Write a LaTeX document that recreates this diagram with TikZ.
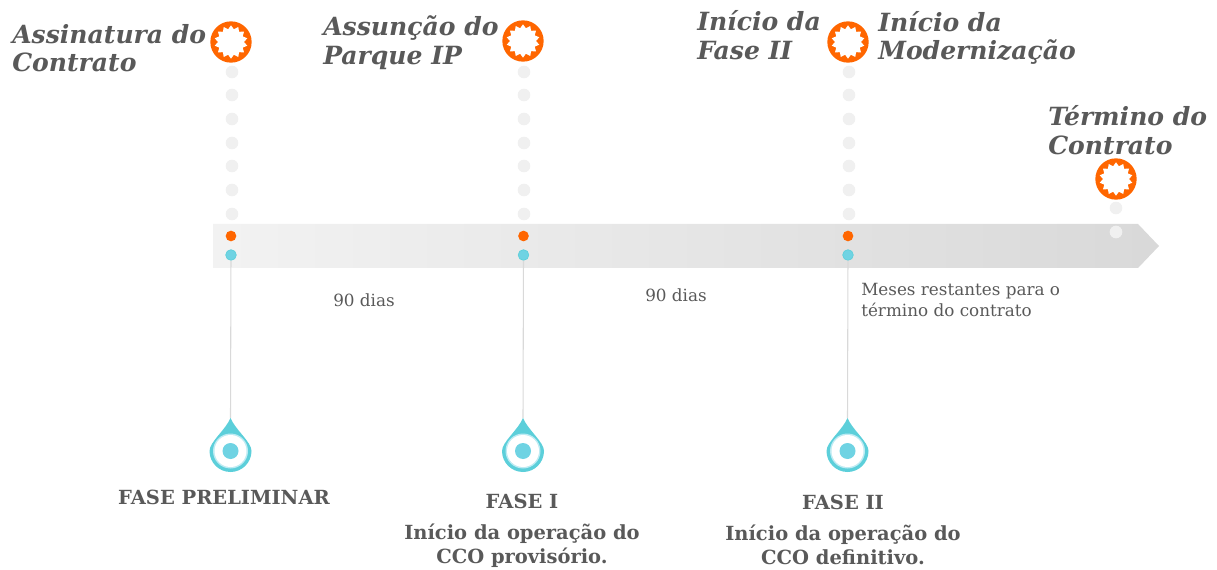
\documentclass[tikz,border=0pt]{standalone}
\usepackage{fontspec}
\setmainfont{DejaVu Serif}
\usetikzlibrary{shapes.geometric}
\definecolor{txtgray}{HTML}{595959}
\definecolor{dotgray}{HTML}{F0F0F0}
\definecolor{markorange}{HTML}{FF6600}
\definecolor{markteal}{HTML}{6FD3E3}
\definecolor{dropteal}{HTML}{5CCFDA}
\tikzset{
  milestone/.style={font=\fontsize{18.8}{21.5}\selectfont\bfseries\itshape, text=txtgray, align=left, anchor=west, inner sep=0pt},
  phase/.style={font=\fontsize{14.6}{18}\selectfont\bfseries, text=txtgray, align=center, inner sep=0pt},
  note/.style={font=\fontsize{12.6}{16}\selectfont, text=txtgray, align=left, inner sep=0pt},
  graydot/.style={circle, fill=dotgray, minimum size=9.5pt, inner sep=0pt},
  orangedot/.style={circle, fill=markorange, minimum size=8pt, inner sep=0pt},
  tealdot/.style={circle, fill=markteal, draw=dropteal, line width=0.5pt, minimum size=8pt, inner sep=0pt},
  burst/.style={circle, fill=markorange, minimum size=31pt, inner sep=0pt},
  burstin/.style={star, star points=14, star point ratio=1.28, fill=white, minimum size=25pt, inner sep=0pt},
  dropcore/.style={circle, fill=markteal, minimum size=12pt, inner sep=0pt}
}
\begin{document}
\begin{tikzpicture}[x=0.75pt,y=-0.75pt]
    \useasboundingbox (0,0) rectangle (1217,570);

    % bar
    \shade[left color=black!5, right color=black!15, shading angle=90] (213,224) -- (1138,224) -- (1159,246) -- (1138,268) -- (213,268) -- cycle;

    % dotted columns
    \foreach \xpos in {232, 524, 849} {
        \foreach \yy in {72,95,119,143,166,190,214} {
            \node[graydot] at (\xpos,\yy) {};
        }
    }
    \node[graydot] (enddot) at (1116,208) {};
    \node[graydot, fill=white, opacity=0.6] (endbar) at (1116,232) {};

    % drops and their lines
    \foreach \name/\xpos in {a/230.5, b/523, c/847.5} {
        \node[orangedot] at (\xpos+0.5,236) {};
        \node[tealdot] (dot\name) at (\xpos+0.5,255) {};
        \coordinate (tip\name) at (\xpos,418);
        \draw[black!15, line width=0.8pt] (dot\name) -- (tip\name);
        \fill[dropteal] (tip\name) .. controls +(5,12) and +(0,-9) .. ++(21,33)
            arc[start angle=0, end angle=180, radius=21]
            .. controls +(0,-9) and +(-5,12) .. (tip\name) -- cycle;
        \fill[markteal!45!white] (\xpos,451) circle[radius=17.5];
        \fill[white] (\xpos,451) circle[radius=16];
        \node[dropcore] (drop\name) at (\xpos,451) {};
    }

    % bursts
    \foreach \name/\xpos/\ypos in {one/231/42, two/523/41, three/848/42, four/1116/179} {
        \node[burst] (burst\name) at (\xpos,\ypos) {};
        \node[burstin] at (burst\name) {};
    }

    % milestones
    \node[milestone] (assin) at (12,48) {Assinatura do\\Contrato};
    \node[milestone] (assun) at (323,43) {Assunção do\\Parque IP};
    \node[milestone] (fase2) at (697,35) {Início da\\Fase II};
    \node[milestone] (moder) at (878,38) {Início da\\Modernização};
    \node[milestone] (termino) at (1048,130) {Término do\\Contrato};

    % durations
    \node[note] (dias1) at (364,300.5) {90 dias};
    \node[note] (dias2) at (676,295.5) {90 dias};
    \node[note, anchor=west] (meses) at (861,300) {Meses restantes para o\\término do contrato};

    % phases
    \node[phase] (prelim) at (224,497) {FASE PRELIMINAR};
    \node[phase] (fasei) at (522,501) {FASE I};
    \node[phase] (opi) at (522,545.5) {Início da operação do\\CCO provisório.};
    \node[phase] (faseii) at (843,502) {FASE II};
    \node[phase] (opii) at (843,545) {Início da operação do\\CCO definitivo.};
\end{tikzpicture}
\end{document}
